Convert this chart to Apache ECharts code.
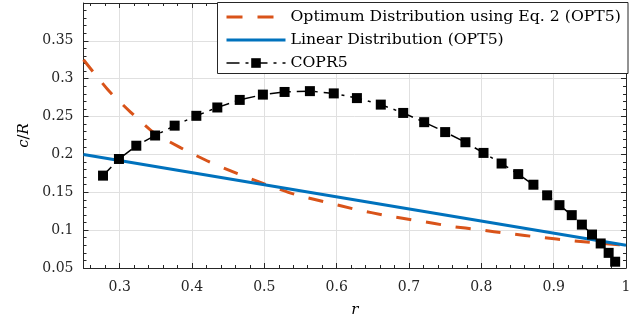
<!DOCTYPE html>
<html>
<head>
<meta charset="utf-8">
<script src="https://cdn.jsdelivr.net/npm/echarts@6/dist/echarts.min.js"></script>
<style>html,body{margin:0;padding:0;background:#fff}#c{width:638px;height:323px}</style>
</head>
<body>
<div id="c"></div>
<script>
// ---- data ----
const optR = [0.25, 0.285, 0.315, 0.347, 0.384, 0.422, 0.463, 0.5, 0.543, 0.585, 0.626, 0.670, 0.712, 0.759, 0.797, 0.838, 0.882, 0.926, 0.973, 1.0];
const optC = [0.325, 0.284, 0.256, 0.229, 0.209, 0.191, 0.1745, 0.161, 0.147, 0.137, 0.1275, 0.119, 0.1125, 0.105, 0.1005, 0.0955, 0.0905, 0.086, 0.082, 0.080];
const linR = [0.25, 1.0];
const linC = [0.2, 0.08];
const coprR = [0.277, 0.299, 0.323, 0.349, 0.376, 0.406, 0.435, 0.466, 0.498, 0.528, 0.563, 0.596, 0.628, 0.661, 0.692, 0.721, 0.750, 0.778, 0.803, 0.828, 0.851, 0.872, 0.891, 0.908, 0.925, 0.939, 0.953, 0.965, 0.976, 0.985];
const coprC = [0.172, 0.194, 0.2115, 0.225, 0.238, 0.251, 0.262, 0.272, 0.279, 0.2825, 0.2836, 0.2806, 0.2744, 0.2658, 0.2548, 0.2426, 0.2295, 0.2161, 0.202, 0.188, 0.174, 0.160, 0.146, 0.133, 0.1198, 0.1073, 0.0942, 0.0824, 0.070, 0.0583];
const seriesNames = ['Optimum Distribution using Eq. 2 (OPT5)', 'Linear Distribution (OPT5)', 'COPR5'];

const zip = (a, b) => a.map((v, i) => [v, b[i]]);
const FONT = 'DejaVu Serif';
const AX = '#262626';
const fmt = v => String(+(+v).toFixed(2));

const chart = echarts.init(document.getElementById('c'), null, {renderer: 'canvas'});
const xBase = {
  type: 'value', min: 0.25, max: 1, splitNumber: 7,
  axisLine: {show: true, onZero: false, lineStyle: {color: AX, width: 1}},
  axisTick: {show: true, inside: true, length: 5, lineStyle: {color: AX}},
  minorTick: {show: true, splitNumber: 5, length: 3, lineStyle: {color: AX}},
};
const yBase = {
  type: 'value', min: 0.05, max: 0.4, interval: 0.05,
  axisLine: {show: true, onZero: false, lineStyle: {color: AX, width: 1}},
  axisTick: {show: true, inside: true, length: 5, lineStyle: {color: AX}},
  minorTick: {show: true, splitNumber: 5, length: 3, lineStyle: {color: AX}},
};
chart.setOption({
  animation: false,
  backgroundColor: '#fff',
  grid: {left: 83.5, right: 12, top: 3, bottom: 53, containLabel: false},
  xAxis: [
    Object.assign({}, xBase, {
      position: 'bottom',
      name: 'r', nameLocation: 'middle', nameGap: 35,
      nameTextStyle: {fontFamily: FONT, fontSize: 15, fontStyle: 'italic', color: '#000'},
      axisLabel: {margin: 12, fontFamily: FONT, fontSize: 14, color: '#262626',
        formatter: v => Math.abs(v - 0.25) < 1e-6 ? '' : fmt(v)},
      splitLine: {show: true, lineStyle: {color: '#e0e0e0', width: 1}}
    }),
    Object.assign({}, xBase, {
      position: 'top', axisLabel: {show: false}, splitLine: {show: false}
    })
  ],
  yAxis: [
    Object.assign({}, yBase, {
      position: 'left',
      name: '{i|c}/{i|R}', nameLocation: 'middle', nameGap: 50, nameRotate: 90,
      nameTextStyle: {fontFamily: FONT, fontSize: 15, color: '#000',
        rich: {i: {fontFamily: FONT, fontSize: 15, fontStyle: 'italic', color: '#000'}}},
      axisLabel: {margin: 10, fontFamily: FONT, fontSize: 14, color: '#262626',
        formatter: v => Math.abs(v - 0.4) < 1e-6 ? '' : fmt(v)},
      splitLine: {show: true, lineStyle: {color: '#e0e0e0', width: 1}}
    }),
    Object.assign({}, yBase, {
      position: 'right', axisLabel: {show: false}, splitLine: {show: false}
    })
  ],
  graphic: [{
    type: 'rect', z: 50,
    shape: {x: 217.5, y: 2.5, width: 410.5, height: 71},
    style: {fill: '#fff', stroke: '#262626', lineWidth: 1}
  }],
  legend: {
    z: 60, orient: 'vertical', left: 225, top: 9, padding: 0,
    itemWidth: 59, itemHeight: 12, itemGap: 7,
    textStyle: {fontFamily: FONT, fontSize: 15.7, color: '#000'},
    data: [
      {name: seriesNames[0], itemStyle: {opacity: 0},
        lineStyle: {color: '#D95319', width: 3, type: [16, 15]}},
      {name: seriesNames[1], itemStyle: {opacity: 0},
        lineStyle: {color: '#0072BD', width: 3, type: 'solid'}},
      {name: seriesNames[2],
        lineStyle: {color: '#000', width: 1.5, type: [13, 6, 3, 6]}}
    ]
  },
  series: [
    {
      name: seriesNames[0], type: 'line', xAxisIndex: 0, yAxisIndex: 0,
      data: zip(optR, optC), symbol: 'none', smooth: 0.2,
      lineStyle: {color: '#D95319', width: 3, type: [15, 15]},
      itemStyle: {color: '#D95319'}, z: 3
    },
    {
      name: seriesNames[1], type: 'line', xAxisIndex: 0, yAxisIndex: 0,
      data: zip(linR, linC), symbol: 'none',
      lineStyle: {color: '#0072BD', width: 3, type: 'solid'},
      itemStyle: {color: '#0072BD'}, z: 4
    },
    {
      name: seriesNames[2], type: 'line', xAxisIndex: 0, yAxisIndex: 0,
      data: zip(coprR, coprC), symbol: 'rect', symbolSize: 10, showSymbol: true,
      lineStyle: {color: '#000', width: 1.5, type: [12, 6, 3, 6]},
      itemStyle: {color: '#000', borderWidth: 0}, z: 5
    }
  ]
});
</script>
</body>
</html>
